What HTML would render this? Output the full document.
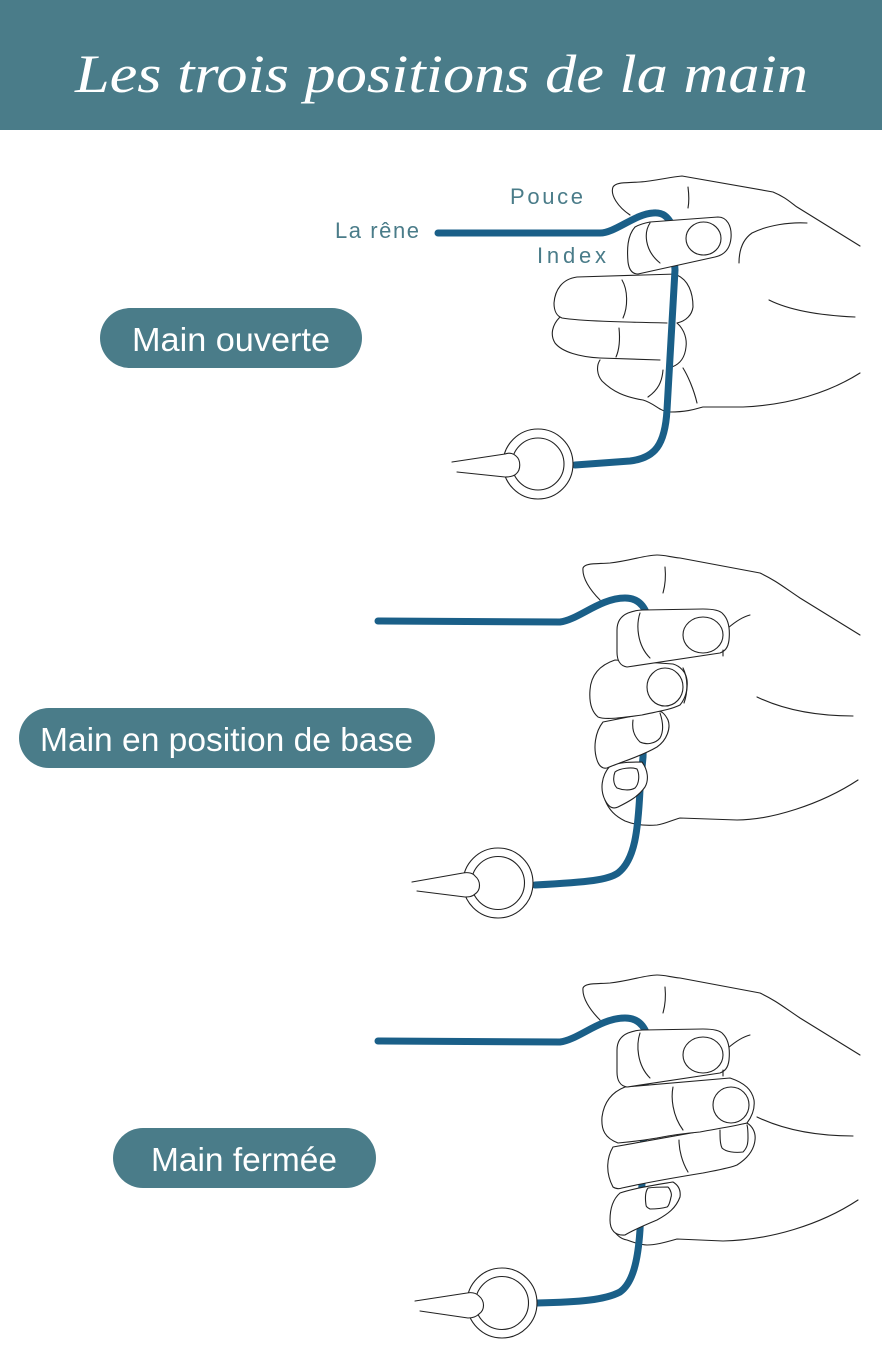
<!DOCTYPE html>
<html><head><meta charset="utf-8"><style>
html,body{margin:0;padding:0;background:#fff;}
svg{display:block;}
</style></head><body>
<svg width="882" height="1350" viewBox="0 0 882 1350" xmlns="http://www.w3.org/2000/svg">
<rect x="0" y="0" width="882" height="1350" fill="#fff"/>
<!-- Header -->
<rect x="0" y="0" width="882" height="130" fill="#4a7c89"/>
<text x="75" y="92" font-family="Liberation Serif, serif" font-style="italic" font-size="54" fill="#fff" textLength="733" lengthAdjust="spacingAndGlyphs">Les trois positions de la main</text>

<!-- Pills -->
<rect x="100" y="308" width="262" height="60" rx="30" fill="#4a7c89"/>
<text x="132" y="351" font-family="Liberation Sans, sans-serif" font-size="33" fill="#fff" textLength="198" lengthAdjust="spacingAndGlyphs">Main ouverte</text>
<rect x="19" y="708" width="416" height="60" rx="30" fill="#4a7c89"/>
<text x="40" y="751" font-family="Liberation Sans, sans-serif" font-size="33" fill="#fff" textLength="373" lengthAdjust="spacingAndGlyphs">Main en position de base</text>
<rect x="113" y="1128" width="263" height="60" rx="30" fill="#4a7c89"/>
<text x="151" y="1171" font-family="Liberation Sans, sans-serif" font-size="33" fill="#fff" textLength="186" lengthAdjust="spacingAndGlyphs">Main fermée</text>

<!-- Labels -->
<g font-family="Liberation Sans, sans-serif" font-size="22" fill="#4a7c89">
<text x="335" y="238" textLength="84" lengthAdjust="spacing">La rêne</text>
<text x="510" y="204" textLength="73" lengthAdjust="spacing">Pouce</text>
<text x="537" y="263" textLength="69" lengthAdjust="spacing">Index</text>
</g>

<g fill="none" stroke="#222" stroke-width="1.1" stroke-linecap="round" stroke-linejoin="round">

<!-- ================= HAND 1 ================= -->
<path d="M630,215 C618,207 610,195 613,187 C616,182 625,183 640,182 C655,181 670,177 682,176 L773,192 C785,197 790,202 797,207 L860,246"/>
<path d="M688,187 C689,195 689,203 688,208"/>
<path d="M807,223 C790,222 768,225 752,233 C742,240 739,252 739,263"/>
<path d="M769,300 C785,308 810,315 855,317"/>
<path d="M860,373 C830,392 790,405 743,407 L703,407 C698,408 690,412 670,412 C665,412 662,410 660,409"/>
<!-- finger 2 -->
<path d="M677,274 L577,277 C562,279 555,290 554,303 C554,312 557,316 562,318 C580,321 620,322 667,323"/>
<path d="M677,275 C688,280 693,292 693,307 C692,315 686,321 677,323"/>
<path d="M622,280 C628,290 628,307 623,318"/>
<!-- finger 3 -->
<path d="M560,317 C552,325 550,335 555,343 C562,352 580,357 600,358 L660,360"/>
<path d="M677,323 C685,330 687,340 686,347 C685,357 680,364 672,367"/>
<path d="M619,328 C620,338 620,348 616,357"/>
<!-- finger 4 -->
<path d="M600,360 C596,366 597,375 602,381 C613,392 625,397 643,400 C650,402 655,406 660,409"/>
<path d="M663,370 C662,382 658,390 648,397"/>
<path d="M683,368 C688,376 694,390 697,403"/>
</g>
<!-- rein 1 -->
<path d="M438,233 L600,233 C615,233 635,214 653,213 C663,212 668,217 672,225 L675,270 L667,410 C665,445 655,458 630,461 L575,465" fill="none" stroke="#1a5f88" stroke-width="7" stroke-linecap="round" stroke-linejoin="round"/>
<g fill="#fff" stroke="#222" stroke-width="1.1" stroke-linecap="round" stroke-linejoin="round">
<path d="M650,222 L718,217 C727,217 732,226 731,238 C730,249 724,255 715,257 L638,274 C632,274 629,270 628,262 C627,250 627,236 635,227 C640,224 645,223 650,222 Z"/>
<ellipse cx="703.5" cy="238.5" rx="17.5" ry="16.5"/>
<path d="M650,223 C644,232 644,250 660,263" fill="none"/>
<!-- ring 1 -->
<circle cx="538" cy="464" r="35"/>
<circle cx="538" cy="464" r="26"/>
<path d="M452,462 L505,454 C510,452 514,454 516,456 C521,460 521,470 516,474 C513,477 508,477 505,477 L457,472"/>
</g>

<!-- ================= HAND 2 ================= -->
<g fill="none" stroke="#222" stroke-width="1.1" stroke-linecap="round" stroke-linejoin="round">
<path d="M600,600 C590,590 582,578 583,568 C585,563 595,564 610,563 C630,561 645,555 657,555 C665,555 670,557 680,558 L760,573 C775,580 785,588 800,598 L860,635"/>
<path d="M665,567 C666,577 665,586 663,593"/>
<path d="M757,697 C780,708 810,716 853,716"/>
<path d="M605,800 C609,810 615,816 625,821 C635,825 645,826 657,825 C665,824 672,820 680,818 L737,820 C770,820 820,805 858,780"/>
<path d="M728,628 C735,622 742,617 750,615"/>
</g>
<path d="M378,621 L560,622 C578,620 600,598 625,598 C635,598 642,603 646,612 L646,640 L643,757 L640,790 C638,830 635,860 618,873 C608,880 590,882 535,885" fill="none" stroke="#1a5f88" stroke-width="7" stroke-linecap="round" stroke-linejoin="round"/>
<g fill="#fff" stroke="#222" stroke-width="1.1" stroke-linecap="round" stroke-linejoin="round">
<!-- pinky -->
<path d="M610,766 C601,776 600,790 605,800 C608,806 612,810 618,807 C628,802 638,797 645,787 C649,780 648,770 642,762 C632,762 620,762 610,766 Z"/>
<path d="M615,772 C620,768 632,767 637,769 C640,775 639,784 635,788 C630,791 622,790 617,788 C613,784 613,777 615,772 Z"/>
<!-- finger 3 -->
<path d="M603,722 C595,732 593,748 597,760 C599,766 602,769 607,768 C618,763 640,757 657,747 C667,740 671,728 668,720 C665,714 662,711 658,711 Z"/>
<path d="M633,720 C632,728 633,735 640,742 C646,745 655,744 660,738 C664,731 663,722 660,713" fill="none"/>
<!-- finger 2 -->
<path d="M615,660 C600,665 591,675 590,690 C589,703 592,712 598,717 C605,720 620,718 642,715 C655,712 670,710 680,705 C686,698 688,688 687,680 C686,672 680,666 673,664 Z"/>
<ellipse cx="665" cy="687" rx="18" ry="19"/>
<path d="M683,668 C688,678 688,692 684,703" fill="none"/>
<!-- index -->
<path d="M628,613 C633,611 638,610 643,610 L703,609 C712,609 720,610 723,614 C729,620 730,630 729,640 C728,648 725,651 720,653 L627,667 C620,666 617,660 617,652 L617,630 C617,622 621,616 628,613 Z"/>
<ellipse cx="703" cy="635" rx="20" ry="18"/>
<path d="M640,613 C636,625 637,645 650,658" fill="none"/>
<path d="M723,650 L723,656" fill="none"/>
<!-- ring 2 -->
<circle cx="498" cy="883" r="35"/>
<circle cx="498" cy="883" r="26.5"/>
<path d="M412,882 L463,873 C468,872 473,873 475,876 C481,881 481,890 475,894 C472,897 468,897 465,897 L417,891"/>
</g>

<!-- ================= HAND 3 ================= -->
<g fill="none" stroke="#222" stroke-width="1.1" stroke-linecap="round" stroke-linejoin="round">
<path d="M600,1020 C590,1010 582,998 583,988 C585,983 595,984 610,983 C630,981 645,975 657,975 C665,975 670,977 680,978 L760,993 C775,1000 785,1008 800,1018 L860,1055"/>
<path d="M665,987 C666,997 665,1006 663,1013"/>
<path d="M757,1117 C780,1128 810,1136 853,1136"/>
<path d="M611,1225 C614,1233 620,1239 627,1240 C635,1243 641,1245 647,1245 C655,1245 663,1243 677,1239 L723,1241 C770,1240 820,1225 858,1200"/>
<path d="M728,1048 C735,1042 742,1037 750,1035"/>
</g>
<path d="M378,1041 L560,1042 C578,1040 600,1018 625,1018 C635,1018 642,1023 646,1032 L645,1100 L642,1183 L640,1230 C638,1260 633,1283 620,1292 C605,1300 580,1302 537,1303" fill="none" stroke="#1a5f88" stroke-width="7" stroke-linecap="round" stroke-linejoin="round"/>
<g fill="#fff" stroke="#222" stroke-width="1.1" stroke-linecap="round" stroke-linejoin="round">
<!-- finger 4 -->
<path d="M620,1193 C612,1200 610,1210 610,1220 C610,1230 615,1236 625,1235 C633,1230 645,1225 657,1220 C668,1214 676,1208 680,1197 C681,1190 678,1185 673,1182 C655,1185 635,1188 620,1193 Z"/>
<path d="M646,1205 C645,1198 645,1192 648,1188 C655,1187 663,1187 668,1187 C671,1190 672,1195 671,1197 C670,1202 669,1206 667,1207 C660,1209 652,1209 650,1209 C648,1208 646,1207 646,1205 Z"/>
<!-- finger 3 -->
<path d="M613,1147 C607,1157 605,1172 613,1187 C616,1189 619,1189 622,1188 C640,1184 660,1180 703,1173 C718,1170 730,1168 737,1165 C748,1158 754,1150 755,1140 C756,1132 752,1126 747,1123 Z"/>
<path d="M720,1130 C720,1137 720,1144 722,1148 C726,1152 735,1153 743,1152 C747,1148 748,1144 748,1138 C748,1132 748,1128 747,1125" fill="none"/>
<path d="M679,1140 C679,1150 682,1162 688,1172" fill="none"/>
<!-- finger 2 -->
<path d="M625,1087 C612,1092 604,1102 602,1117 C601,1130 605,1138 618,1143 C630,1142 645,1140 657,1138 C672,1135 688,1133 700,1132 C715,1129 730,1127 747,1123 C753,1115 755,1108 754,1100 C752,1090 745,1083 730,1078 Z"/>
<ellipse cx="731" cy="1105" rx="18" ry="18"/>
<path d="M673,1087 C671,1097 672,1115 683,1130" fill="none"/>
<!-- index -->
<path d="M628,1033 C633,1031 638,1030 643,1030 L703,1029 C712,1029 720,1030 723,1034 C729,1040 730,1050 729,1060 C728,1068 725,1071 720,1073 L627,1087 C620,1086 617,1080 617,1072 L617,1050 C617,1042 621,1036 628,1033 Z"/>
<ellipse cx="703" cy="1055" rx="20" ry="18"/>
<path d="M640,1033 C636,1045 637,1065 650,1078" fill="none"/>
<path d="M723,1070 L723,1076" fill="none"/>
<!-- ring 3 -->
<circle cx="502" cy="1303" r="35"/>
<circle cx="502" cy="1303" r="26.5"/>
<path d="M415,1301 L467,1293 C472,1292 476,1293 479,1296 C485,1301 485,1310 479,1314 C476,1317 472,1318 468,1318 L420,1311"/>
</g>
</svg>
</body></html>
